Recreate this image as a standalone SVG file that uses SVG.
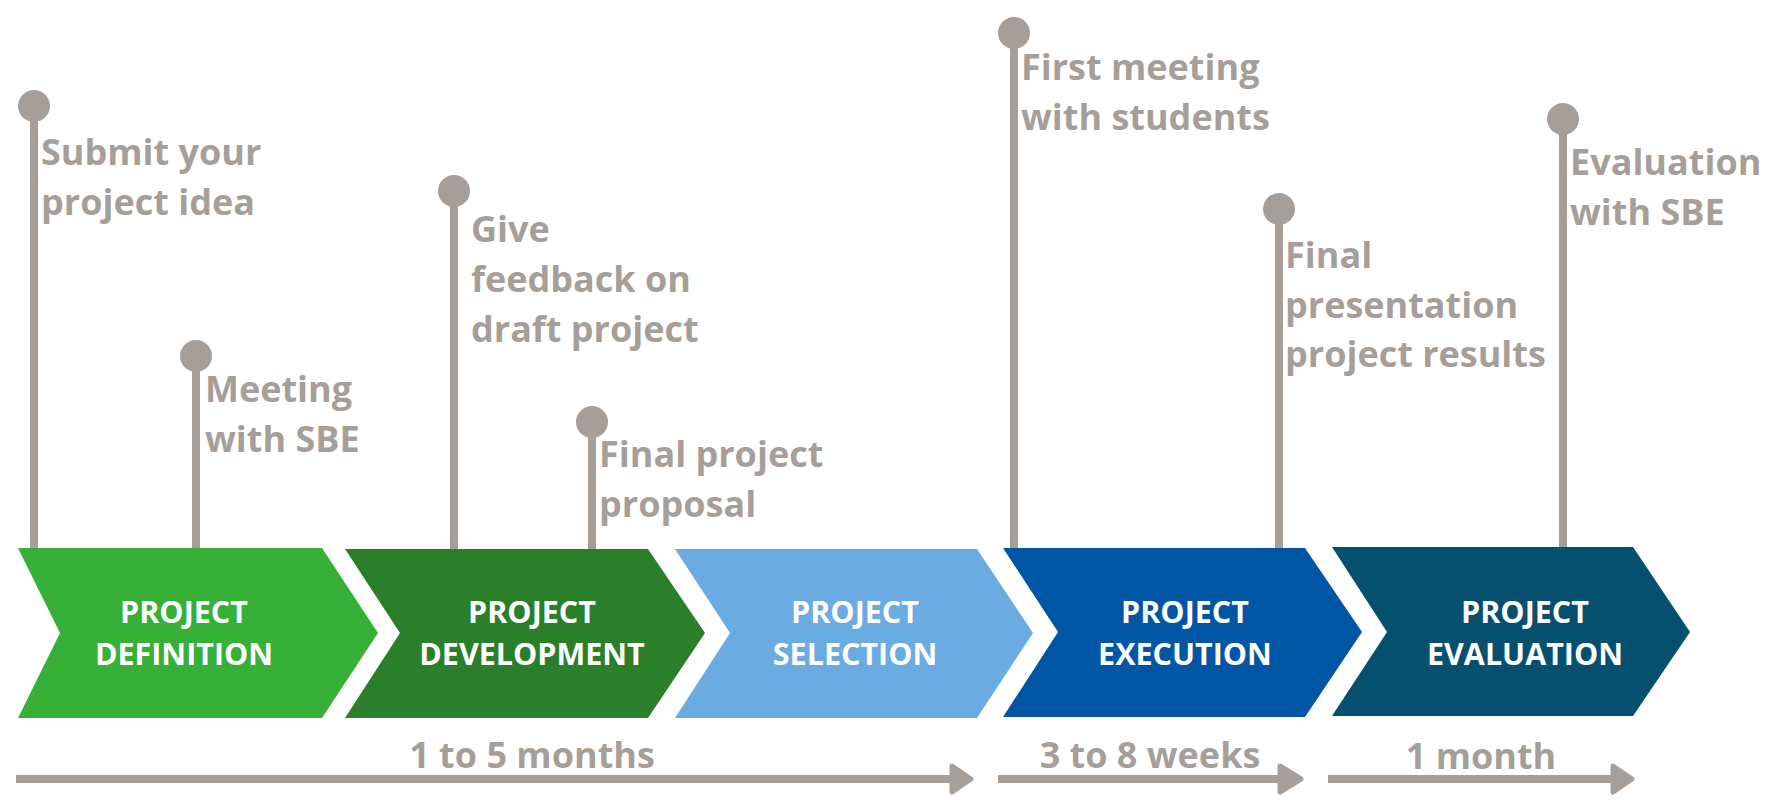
<svg xmlns="http://www.w3.org/2000/svg" width="1777" height="800" viewBox="0 0 1777 800">
<style>
.ms{font-family:"Open Sans","Liberation Sans",sans-serif;font-weight:700;font-size:36px;fill:#a69f99}
.ph{font-family:"Open Sans","Liberation Sans",sans-serif;font-weight:700;font-size:30.5px;fill:#ffffff;text-anchor:middle}
.du{font-family:"Open Sans","Liberation Sans",sans-serif;font-weight:700;font-size:36px;fill:#a69f99;text-anchor:middle}
.pole{stroke:#a69f99;stroke-width:8}
.dot{fill:#a69f99}
.ax{stroke:#a69f99;stroke-width:8}
.hd{fill:#a69f99;stroke:#a69f99;stroke-width:5;stroke-linejoin:round}
</style>
<rect width="1777" height="800" fill="#ffffff"/>
<g id="phase-definition">
<path d="M18,548 L322,548 L378,633 L322,718 L18,718 L60,633 Z" fill="#36b037"/>
<text class="ph" x="184" y="623">PROJECT</text>
<text class="ph" x="184" y="665">DEFINITION</text>
</g>
<g id="phase-development">
<path d="M345,549 L648,549 L705,633 L648,718 L345,718 L400,633 Z" fill="#2a7f2a"/>
<text class="ph" x="532" y="623">PROJECT</text>
<text class="ph" x="532" y="665">DEVELOPMENT</text>
</g>
<g id="phase-selection">
<path d="M675,549 L977,549 L1033,633 L977,718 L675,718 L730,633 Z" fill="#6aace2"/>
<text class="ph" x="855" y="623">PROJECT</text>
<text class="ph" x="855" y="665">SELECTION</text>
</g>
<g id="phase-execution">
<path d="M1003,548 L1305,548 L1362,632 L1305,717 L1003,717 L1058,632 Z" fill="#0055a4"/>
<text class="ph" x="1185" y="623">PROJECT</text>
<text class="ph" x="1185" y="665">EXECUTION</text>
</g>
<g id="phase-evaluation">
<path d="M1332,547 L1633,547 L1690,632 L1633,716 L1332,716 L1387,632 Z" fill="#05506f"/>
<text class="ph" x="1525" y="623">PROJECT</text>
<text class="ph" x="1525" y="665">EVALUATION</text>
</g>
<g id="milestone-submit">
<line class="pole" x1="34" y1="106" x2="34" y2="548"/>
<circle class="dot" cx="34" cy="106" r="16"/>
<text class="ms" x="41" y="165">Submit your</text>
<text class="ms" x="41" y="215">project idea</text>
</g>
<g id="milestone-meeting">
<line class="pole" x1="196" y1="356" x2="196" y2="548"/>
<circle class="dot" cx="196" cy="356" r="16"/>
<text class="ms" x="205" y="402">Meeting</text>
<text class="ms" x="205" y="452">with SBE</text>
</g>
<g id="milestone-feedback">
<line class="pole" x1="454" y1="191" x2="454" y2="549"/>
<circle class="dot" cx="454" cy="191" r="16"/>
<text class="ms" x="471" y="242">Give</text>
<text class="ms" x="471" y="292">feedback on</text>
<text class="ms" x="471" y="342">draft project</text>
</g>
<g id="milestone-proposal">
<line class="pole" x1="592" y1="422" x2="592" y2="549"/>
<circle class="dot" cx="592" cy="422" r="16"/>
<text class="ms" x="599" y="467">Final project</text>
<text class="ms" x="599" y="517">proposal</text>
</g>
<g id="milestone-first-meeting">
<line class="pole" x1="1014" y1="33" x2="1014" y2="548"/>
<circle class="dot" cx="1014" cy="33" r="16"/>
<text class="ms" x="1021" y="80">First meeting</text>
<text class="ms" x="1021" y="130">with students</text>
</g>
<g id="milestone-presentation">
<line class="pole" x1="1279" y1="209" x2="1279" y2="548"/>
<circle class="dot" cx="1279" cy="209" r="16"/>
<text class="ms" x="1285" y="268">Final</text>
<text class="ms" x="1285" y="318">presentation</text>
<text class="ms" x="1285" y="367">project results</text>
</g>
<g id="milestone-evaluation">
<line class="pole" x1="1563" y1="119" x2="1563" y2="547"/>
<circle class="dot" cx="1563" cy="119" r="16"/>
<text class="ms" x="1570" y="175">Evaluation</text>
<text class="ms" x="1570" y="225">with SBE</text>
</g>
<g id="connectors">
<line class="ax" x1="16" y1="779" x2="954" y2="779"/>
<path class="hd" d="M952,766 L971,779 L952,792 Z"/>
<line class="ax" x1="998" y1="779" x2="1280" y2="779"/>
<path class="hd" d="M1280,766 L1301,779 L1280,792 Z"/>
<line class="ax" x1="1328" y1="779" x2="1614" y2="779"/>
<path class="hd" d="M1613,766 L1632,779 L1613,792 Z"/>
</g>
<g id="durations">
<text class="du" x="532" y="768">1 to 5 months</text>
<text class="du" x="1150" y="768">3 to 8 weeks</text>
<text class="du" x="1481" y="769">1 month</text>
</g>
</svg>
